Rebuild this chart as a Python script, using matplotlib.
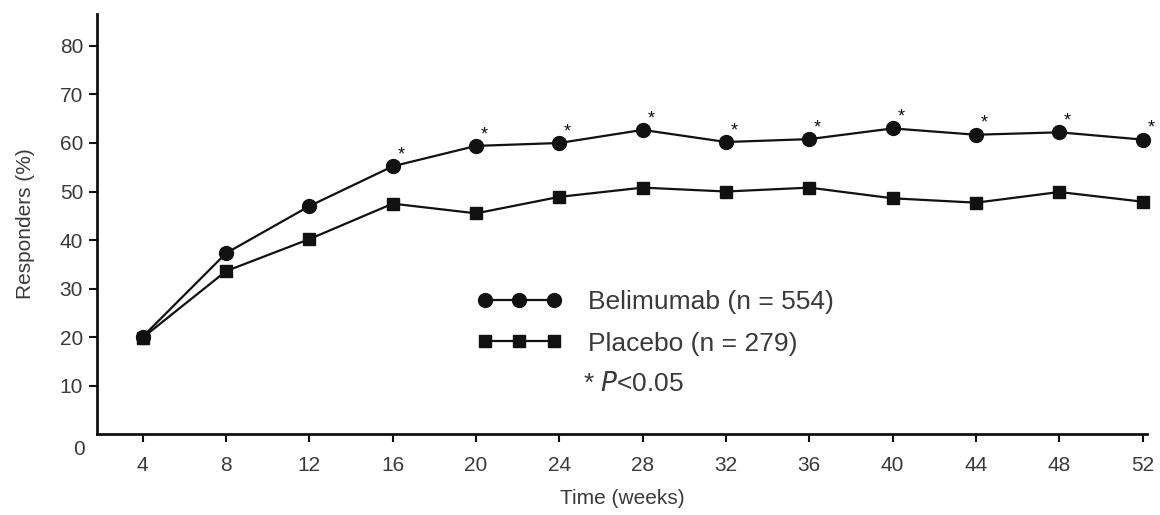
import matplotlib.pyplot as plt
from matplotlib.lines import Line2D

plt.rcParams['font.family'] = ['Liberation Sans', 'DejaVu Sans']

# data
weeks = [4, 8, 12, 16, 20, 24, 28, 32, 36, 40, 44, 48, 52]
belimumab = [20.1, 37.3, 47.0, 55.2, 59.4, 60.0, 62.7, 60.2, 60.8, 63.0, 61.7, 62.2, 60.7]
placebo = [19.9, 33.6, 40.2, 47.5, 45.5, 48.9, 50.8, 50.0, 50.8, 48.6, 47.7, 49.9, 47.9]
significant_weeks = [16, 20, 24, 28, 32, 36, 40, 44, 48, 52]

ink = '#111111'
txt = '#3a3a3a'

fig = plt.figure(figsize=(11.6, 5.15), dpi=100)
ax = fig.add_axes([0.0836, 0.157, 0.905, 0.816])

ax.plot(weeks, belimumab, color=ink, lw=1.6, marker='o', ms=10, mfc=ink, mec=ink, clip_on=False)
ax.plot(weeks, placebo, color=ink, lw=1.6, marker='s', ms=9, mfc=ink, mec=ink, clip_on=False)

# significance asterisks
for w, v in zip(weeks, belimumab):
    if w in significant_weeks:
        ax.annotate('*', (w, v), xytext=(6, 2), textcoords='offset points',
                    ha='center', va='bottom', fontsize=13, color=ink)

ax.set_xlim(1.8, 52.2)
ax.set_ylim(0, 86.6)
ax.set_xticks(weeks)
ax.set_yticks([10, 20, 30, 40, 50, 60, 70, 80])
ax.tick_params(axis='both', labelsize=15, colors=txt, length=6, width=1.5)
ax.tick_params(axis='x', pad=10)
ax.tick_params(axis='y', pad=4)
ax.tick_params(color=ink)

ax.annotate('0', (0, 0), xycoords=('axes fraction', 'data'), xytext=(-13, -11),
            textcoords='offset points', ha='center', va='center', fontsize=15, color=txt)

for s in ['top', 'right']:
    ax.spines[s].set_visible(False)
for s in ['left', 'bottom']:
    ax.spines[s].set_linewidth(2)
    ax.spines[s].set_color(ink)

ax.set_ylabel('Responders (%)', fontsize=15, color=txt, labelpad=18)
ax.set_xlabel('Time (weeks)', fontsize=15, color=txt, labelpad=10)

# legend built by hand
h1 = Line2D([0], [0], color=ink, lw=1.6, marker='o', ms=10)
h2 = Line2D([0], [0], color=ink, lw=1.6, marker='s', ms=9)
leg = ax.legend([h1, h2], ['Belimumab (n = 554)', 'Placebo (n = 279)'],
                loc='upper left', bbox_to_anchor=(0.352, 0.367), frameon=False,
                fontsize=19, numpoints=3, handlelength=3.2, handletextpad=1.0,
                labelspacing=0.65, borderaxespad=0)
for t in leg.get_texts():
    t.set_color(txt)

ax.text(0.463, 0.102, '* $\\mathit{P}$<0.05', transform=ax.transAxes, fontsize=19, color=txt)

fig.savefig('out.png', dpi=100)
